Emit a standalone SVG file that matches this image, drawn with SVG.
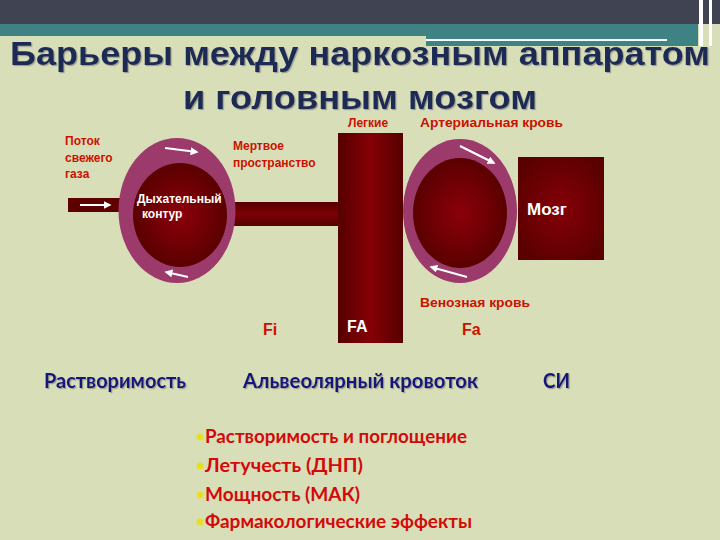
<svg xmlns="http://www.w3.org/2000/svg" width="720" height="540" viewBox="0 0 720 540">
<defs>
<style>
.red{fill:#cc1100;font-family:"Liberation Sans",Arial,sans-serif;font-weight:bold;font-size:12px}
.wht{fill:#ffffff;font-family:"Liberation Sans",Arial,sans-serif;font-weight:bold}
.big{font-family:"Liberation Sans",Arial,sans-serif;font-size:16px;font-weight:bold}
.navy{fill:#14147a;font-family:Lato,"Open Sans",sans-serif;font-weight:bold;font-size:20px}
.bul{fill:#d40a0a;font-family:Lato,"Open Sans",sans-serif;font-weight:bold;font-size:18px}
.title{fill:#1b2c55;font-family:"Liberation Sans",Arial,sans-serif;font-weight:bold;font-size:34px}
.arr{stroke:#ffffff;stroke-width:2;fill:none;marker-end:url(#ah)}
</style>
<marker id="ah" viewBox="0 0 10 10" refX="8" refY="5" markerWidth="4" markerHeight="4" orient="auto"><path d="M0,0 L10,5 L0,10 z" fill="#ffffff"/></marker>
<radialGradient id="inner" cx="0.5" cy="0.5" r="0.5"><stop offset="0" stop-color="#8c000a"/><stop offset="1" stop-color="#5a0000"/></radialGradient>
<radialGradient id="brain" cx="0.5" cy="0.5" r="0.6"><stop offset="0" stop-color="#850008"/><stop offset="1" stop-color="#5a0000"/></radialGradient>
<linearGradient id="vbar" x1="0" y1="0" x2="1" y2="0"><stop offset="0" stop-color="#560000"/><stop offset="0.5" stop-color="#850006"/><stop offset="1" stop-color="#560000"/></linearGradient>
<linearGradient id="hbar" x1="0" y1="0" x2="0" y2="1"><stop offset="0" stop-color="#560000"/><stop offset="0.5" stop-color="#7c0005"/><stop offset="1" stop-color="#560000"/></linearGradient>
<filter id="sh" x="-5%" y="-20%" width="110%" height="140%"><feDropShadow dx="1.2" dy="1.2" stdDeviation="0.5" flood-color="#777777" flood-opacity="0.6"/></filter>
</defs>

<rect width="720" height="540" fill="#d8dfb8"/>
<g id="header">
<rect x="0" y="0" width="720" height="24" fill="#404352"/>
<rect x="0" y="24" width="698" height="12" fill="#3e8283"/>
<rect x="426" y="36" width="272" height="10" fill="#3e8283"/>
<rect x="426" y="39" width="241" height="2" fill="#ffffff"/>
<rect x="699" y="0" width="4" height="46" fill="#ffffff"/>
<rect x="709" y="0" width="3" height="46" fill="#ffffff"/>
</g>

<g id="title" filter="url(#sh)">
<text class="title" x="10" y="65" textLength="700" lengthAdjust="spacingAndGlyphs">Барьеры между наркозным аппаратом</text>
<text class="title" x="183" y="109" textLength="354" lengthAdjust="spacingAndGlyphs">и головным мозгом</text>
</g>

<g id="fresh-gas">
<rect x="68" y="198" width="54" height="14" fill="#5c0000"/>
<text class="red" x="65" y="145">Поток</text>
<text class="red" x="65" y="162">свежего</text>
<text class="red" x="65" y="178">газа</text>
</g>

<g id="dead-space">
<rect x="228" y="202" width="112" height="24" fill="url(#hbar)"/>
<text class="red" x="233" y="150">Мертвое</text>
<text class="red" x="233" y="167">пространство</text>
</g>

<g id="breathing-circuit">
<ellipse cx="177" cy="210.5" rx="58.5" ry="72.5" fill="#9c3a6c"/>
<ellipse cx="180" cy="215" rx="47" ry="52" fill="url(#inner)"/>
<text class="wht" x="137" y="203" font-size="12">Дыхательный</text>
<text class="wht" x="142" y="218" font-size="12">контур</text>
</g>

<g id="lungs">
<rect x="338" y="133" width="65" height="210" fill="url(#vbar)"/>
<text class="red" x="348" y="127">Легкие</text>
<text class="wht big" x="347" y="332">FA</text>
</g>

<g id="blood">
<ellipse cx="460" cy="211" rx="57" ry="72" fill="#9c3a6c"/>
<ellipse cx="460" cy="213" rx="47" ry="55" fill="url(#inner)"/>
<text class="red" x="420" y="127" textLength="143" lengthAdjust="spacingAndGlyphs">Артериальная кровь</text>
<text class="red" x="420" y="307" textLength="110" lengthAdjust="spacingAndGlyphs">Венозная кровь</text>
</g>

<g id="brain-node">
<rect x="518" y="157" width="86" height="103" fill="url(#brain)"/>
<text class="wht" x="527" y="215" font-size="17">Мозг</text>
</g>

<g id="connectors">
<line class="arr" x1="80" y1="205" x2="110" y2="205"/>
<line class="arr" x1="165" y1="148" x2="197" y2="152"/>
<line class="arr" x1="188" y1="277" x2="166" y2="272"/>
<line class="arr" x1="460" y1="146" x2="494" y2="163"/>
<line class="arr" x1="467" y1="277" x2="431" y2="267"/>
</g>

<g id="fractions">
<text class="big" x="263" y="335" fill="#cc1100" font-weight="normal">Fi</text>
<text class="big" x="462" y="335" fill="#cc1100">Fa</text>
</g>

<g id="factors" filter="url(#sh)">
<text class="navy" x="44" y="388" textLength="142" lengthAdjust="spacingAndGlyphs">Растворимость</text>
<text class="navy" x="243" y="388" textLength="235" lengthAdjust="spacingAndGlyphs">Альвеолярный кровоток</text>
<text class="navy" x="543" y="388" textLength="27" lengthAdjust="spacingAndGlyphs">СИ</text>
</g>

<g id="bullets">
<circle cx="200" cy="437" r="3.5" fill="#e6e020"/>
<circle cx="200" cy="466" r="3.5" fill="#e6e020"/>
<circle cx="200" cy="495" r="3.5" fill="#e6e020"/>
<circle cx="200" cy="522" r="3.5" fill="#e6e020"/>
<text class="bul" x="205" y="443" textLength="262" lengthAdjust="spacingAndGlyphs">Растворимость и поглощение</text>
<text class="bul" x="205" y="472" textLength="158" lengthAdjust="spacingAndGlyphs">Летучесть (ДНП)</text>
<text class="bul" x="205" y="501" textLength="155" lengthAdjust="spacingAndGlyphs">Мощность (МАК)</text>
<text class="bul" x="205" y="528" textLength="267" lengthAdjust="spacingAndGlyphs">Фармакологические эффекты</text>
</g>
</svg>
